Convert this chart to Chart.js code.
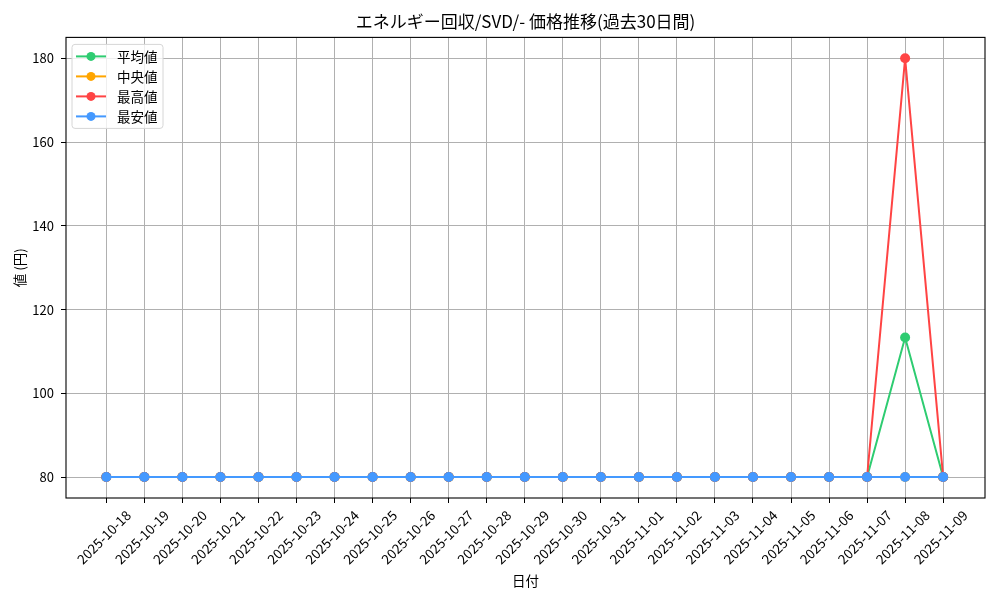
<!DOCTYPE html>
<html>
<head>
<meta charset="utf-8">
<title>価格推移</title>
<script src="https://cdn.jsdelivr.net/npm/chart.js@4.4.1/dist/chart.umd.min.js"></script>
<style>
  body { margin: 0; background: #fff; }
  #wrap { width: 1000px; height: 600px; }
</style>
</head>
<body>
<div id="wrap"><canvas id="myChart"></canvas></div>
<script>
// values
var dates = ['2025-10-18', '2025-10-19', '2025-10-20', '2025-10-21', '2025-10-22', '2025-10-23',
  '2025-10-24', '2025-10-25', '2025-10-26', '2025-10-27', '2025-10-28', '2025-10-29', '2025-10-30',
  '2025-10-31', '2025-11-01', '2025-11-02', '2025-11-03', '2025-11-04', '2025-11-05', '2025-11-06',
  '2025-11-07', '2025-11-08', '2025-11-09'];
var avgVals = [80, 80, 80, 80, 80, 80, 80, 80, 80, 80, 80, 80, 80, 80, 80, 80, 80, 80, 80, 80, 80, 113.33, 80];
var medVals = [80, 80, 80, 80, 80, 80, 80, 80, 80, 80, 80, 80, 80, 80, 80, 80, 80, 80, 80, 80, 80, 80, 80];
var maxVals = [80, 80, 80, 80, 80, 80, 80, 80, 80, 80, 80, 80, 80, 80, 80, 80, 80, 80, 80, 80, 80, 180, 80];
var minVals = [80, 80, 80, 80, 80, 80, 80, 80, 80, 80, 80, 80, 80, 80, 80, 80, 80, 80, 80, 80, 80, 80, 80];
var yTicks = [80, 100, 120, 140, 160, 180];
var seriesNames = ['平均値', '中央値', '最高値', '最安値'];
var seriesColors = ['#2ecc71', '#ffa500', '#ff4444', '#4499ff'];

var FONT = "'Noto Sans CJK JP', 'Noto Sans', sans-serif";

function pts(arr) {
  return arr.map(function (v, i) { return { x: i, y: v }; });
}

function makeSet(idx, arr) {
  return {
    label: seriesNames[idx],
    data: pts(arr),
    borderColor: seriesColors[idx],
    backgroundColor: seriesColors[idx],
    borderWidth: 2,
    pointRadius: 5,
    pointHoverRadius: 5,
    pointBorderWidth: 0,
    tension: 0,
    order: 4 - idx
  };
}

// legend box inside the plot + black frame round it
var extras = {
  id: 'extras',
  afterDraw: function (chart) {
    var ctx = chart.ctx;
    var a = chart.chartArea;
    ctx.save();
    ctx.strokeStyle = '#000';
    ctx.lineWidth = 1.1;
    ctx.strokeRect(a.left, a.top, a.right - a.left, a.bottom - a.top);

    var bx = a.left + 6, by = a.top + 7, bw = 91, bh = 84;
    ctx.beginPath();
    if (ctx.roundRect) ctx.roundRect(bx, by, bw, bh, 3); else ctx.rect(bx, by, bw, bh);
    ctx.fillStyle = 'rgba(255,255,255,0.8)';
    ctx.fill();
    ctx.strokeStyle = '#d6d6d6';
    ctx.lineWidth = 1;
    ctx.stroke();

    ctx.font = '13.5px ' + FONT;
    ctx.textBaseline = 'middle';
    ctx.textAlign = 'left';
    for (var i = 0; i < seriesNames.length; i++) {
      var y = by + 12 + i * 20;
      ctx.strokeStyle = seriesColors[i];
      ctx.lineWidth = 2;
      ctx.beginPath();
      ctx.moveTo(bx + 4, y);
      ctx.lineTo(bx + 34, y);
      ctx.stroke();
      ctx.fillStyle = seriesColors[i];
      ctx.beginPath();
      ctx.arc(bx + 19, y, 4.5, 0, Math.PI * 2);
      ctx.fill();
      ctx.fillStyle = '#000';
      ctx.fillText(seriesNames[i], bx + 45, y);
    }
    ctx.restore();
  }
};

var ctx = document.getElementById('myChart').getContext('2d');
var chart = new Chart(ctx, {
  type: 'line',
  data: {
    datasets: [makeSet(0, avgVals), makeSet(1, medVals), makeSet(2, maxVals), makeSet(3, minVals)]
  },
  options: {
    responsive: true,
    maintainAspectRatio: false,
    animation: false,
    layout: { padding: { left: 10, right: 15, top: 0, bottom: 8 } },
    plugins: {
      legend: { display: false },
      tooltip: { enabled: false },
      title: {
        display: true,
        fullSize: false,
        text: 'エネルギー回収/SVD/- 価格推移(過去30日間)',
        color: '#000',
        font: { family: FONT, size: 17, weight: 'normal' },
        padding: { top: 11, bottom: 6 }
      }
    },
    scales: {
      x: {
        type: 'linear',
        min: -1.06,
        max: 23.1,
        afterBuildTicks: function (scale) {
          scale.ticks = dates.map(function (d, i) { return { value: i }; });
        },
        afterFit: function (scale) { scale.height = 94; },
        grid: { color: '#b0b0b0', lineWidth: 1, tickColor: '#000', tickLength: 5 },
        border: { display: false },
        ticks: {
          autoSkip: false,
          minRotation: 45,
          maxRotation: 45,
          labelOffset: 22,
          padding: 4,
          color: '#000',
          font: { family: FONT, size: 13.5 },
          callback: function (v) { return dates[v]; }
        },
        title: {
          display: true,
          text: '日付',
          color: '#000',
          font: { family: FONT, size: 13.5 },
          padding: { top: 0, bottom: 3 }
        }
      },
      y: {
        min: 75,
        max: 185,
        afterBuildTicks: function (scale) {
          scale.ticks = yTicks.map(function (v) { return { value: v }; });
        },
        afterFit: function (scale) { scale.width = 56; },
        grid: { color: '#b0b0b0', lineWidth: 1, tickColor: '#000', tickLength: 5 },
        border: { display: false },
        ticks: {
          padding: 7,
          color: '#000',
          font: { family: FONT, size: 13 }
        },
        title: {
          display: true,
          text: '値 (円)',
          color: '#000',
          font: { family: FONT, size: 13.5 },
          padding: { top: 2, bottom: 2 }
        }
      }
    }
  },
  plugins: [extras]
});
</script>
</body>
</html>
